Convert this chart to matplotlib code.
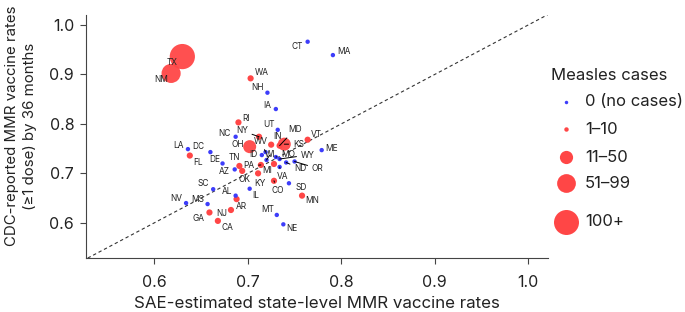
import matplotlib
matplotlib.use("Agg")
import matplotlib.pyplot as plt
from matplotlib.lines import Line2D

plt.rcParams['font.family'] = ['Inter', 'DejaVu Sans']

# ---- data ----
states = ["CT", "MA", "TX", "NM", "WA", "NH", "IA", "RI", "UT", "NC", "NY", "VT",
          "LA", "DC", "FL", "ME", "OH", "KS", "IN", "MD", "DE", "WV", "ID", "WI",
          "MO", "WY", "ND", "OR", "VA", "MI", "PA", "KY", "CO", "SD", "MN", "TN",
          "OK", "AZ", "IL", "SC", "AL", "AR", "NV", "MS", "GA", "NJ", "CA", "MT", "NE"]
sae_rate = [0.764, 0.791, 0.630, 0.618, 0.703, 0.721, 0.730, 0.690, 0.732, 0.687, 0.712, 0.764,
            0.636, 0.660, 0.638, 0.779, 0.702, 0.739, 0.725, 0.734, 0.673, 0.719, 0.715, 0.720,
            0.730, 0.734, 0.741, 0.750, 0.734, 0.728, 0.714, 0.711, 0.728, 0.744, 0.758, 0.691,
            0.694, 0.686, 0.702, 0.663, 0.687, 0.688, 0.634, 0.657, 0.659, 0.682, 0.668, 0.731, 0.738]
cdc_rate = [0.966, 0.939, 0.936, 0.902, 0.892, 0.863, 0.830, 0.803, 0.788, 0.774, 0.774, 0.768,
            0.749, 0.743, 0.736, 0.747, 0.754, 0.759, 0.758, 0.756, 0.720, 0.743, 0.737, 0.727,
            0.733, 0.729, 0.722, 0.724, 0.713, 0.719, 0.717, 0.700, 0.685, 0.680, 0.655, 0.715,
            0.705, 0.708, 0.669, 0.668, 0.655, 0.648, 0.640, 0.638, 0.621, 0.626, 0.604, 0.616, 0.597]
# case category: 0 = none, 1 = 1-10, 2 = 11-50, 3 = 51-99, 4 = 100+
case_cat = [0, 0, 4, 3, 1, 0, 0, 1, 0, 0, 1, 1,
            0, 0, 1, 0, 2, 2, 1, 1, 0, 0, 0, 0,
            0, 0, 0, 0, 0, 1, 1, 1, 1, 0, 1, 1,
            1, 0, 0, 0, 0, 1, 0, 0, 1, 1, 1, 0, 0]
cat_labels = ["0 (no cases)", "1\u201310", "11\u201350", "51\u201399", "100+"]
ticks = [0.6, 0.7, 0.8, 0.9, 1.0]

# ---- styling ----
BLUE = '#3d3dfa'
RED = '#ff4646'
cat_color = [BLUE, RED, RED, RED, RED]
cat_size = [10, 20, 88, 190, 330]
leg_ms = [2.5, 3.2, 9.5, 13.5, 18]
leg_y_px = [102, 129, 157, 183, 222]

# label offsets in pixels (dx, dy) relative to point, and whether to draw a leader line
label_off = {
    "CT": (-10, -5, False), "MA": (11, 4, False), "TX": (-10, -6, False), "NM": (-10, -6, False),
    "WA": (11, 6, False), "NH": (-10, 5, False), "IA": (-9, 4, False), "RI": (8, 4, False),
    "UT": (-9, 5, False), "NC": (-11, 3, False), "NY": (-17, 6, True), "VT": (9, 5, False),
    "LA": (-9, 4, False), "DC": (-12, 6, False), "FL": (8, -7, False), "ME": (10, 2, False),
    "OH": (-12, 2, False), "KS": (14, 0, True), "IN": (6, 8, False), "MD": (15, 16, True),
    "DE": (-8, 4, False), "WV": (-5, 11, True), "ID": (-8, 1, False), "WI": (4, 6, True),
    "MO": (12, 3, True), "WY": (28, 4, True), "ND": (14, -6, True), "OR": (23, -7, True),
    "VA": (3, -10, True), "MI": (-7, -7, False), "PA": (-12, -1, True), "KY": (2, -10, False),
    "CO": (4, -10, True), "SD": (12, -4, False), "MN": (10, -5, False), "TN": (-5, 8, False),
    "OK": (2, -9, False), "AZ": (-10, -2, False), "IL": (6, -7, False), "SC": (-10, 6, False),
    "AL": (-9, 4, False), "AR": (5, -7, False), "NV": (-10, 5, False), "MS": (-10, 5, False),
    "GA": (-11, -6, False), "NJ": (-9, -4, False), "CA": (10, -7, False), "MT": (-9, 5, False),
    "NE": (9, -4, False),
}

W, H = 685, 312
fig = plt.figure(figsize=(W / 100, H / 100), dpi=100)
ax = fig.add_axes([86 / W, 1 - 258 / H, (548 - 86) / W, (258 - 15) / H])

ax.plot([0.5, 1.1], [0.5, 1.1], ls=(0, (3, 2.5)), color='#333333', lw=0.8, zorder=1)

order = sorted(range(len(states)), key=lambda i: -case_cat[i])
for i in order:
    c = case_cat[i]
    ax.scatter(sae_rate[i], cdc_rate[i], s=cat_size[c], color=cat_color[c],
               edgecolors='none', alpha=0.95 if c >= 2 else 1.0, zorder=2 + (4 - c) * 0.1)

for i, st in enumerate(states):
    dx, dy, line = label_off[st]
    kw = dict(xy=(sae_rate[i], cdc_rate[i]), xytext=(dx, dy), textcoords='offset pixels',
              ha='center', va='center', fontsize=6, color='#222222', zorder=5)
    if line:
        kw['arrowprops'] = dict(arrowstyle='-', color='black', lw=0.7,
                                shrinkA=1, shrinkB=0)
    ax.annotate(st, **kw)

ax.set_xlim(0.527, 1.021)
ax.set_ylim(0.529, 1.020)
ax.set_xticks(ticks)
ax.set_yticks(ticks)
ax.set_xticklabels([f"{t:.1f}" for t in ticks])
ax.set_yticklabels([f"{t:.1f}" for t in ticks])
for s in ['top', 'right']:
    ax.spines[s].set_visible(False)
for s in ['left', 'bottom']:
    ax.spines[s].set_color('#444444')
    ax.spines[s].set_linewidth(0.8)
ax.tick_params(axis='both', direction='out', length=4.5, width=0.8, color='#444444',
               labelsize=11.5, labelcolor='#222222')
ax.tick_params(axis='x', pad=8)
ax.tick_params(axis='y', pad=4)

ax.set_xlabel("SAE-estimated state-level MMR vaccine rates", fontsize=12.2,
              color='#222222', va='center')
ax.xaxis.set_label_coords(0.5, (258 - 304) / 243)
ax.set_ylabel("CDC-reported MMR vaccine rates\n(\u22651 dose) by 36 months", fontsize=10.8,
              color='#222222', linespacing=1.4, va='center')
ax.yaxis.set_label_coords((21 - 86) / 462, (258 - 126) / 243)

# manual legend
fig.text(551 / W, 1 - 75 / H, "Measles cases", fontsize=12, color='#222222',
         ha='left', va='center')
for k in range(len(cat_labels)):
    yk = 1 - leg_y_px[k] / H
    fig.add_artist(Line2D([566 / W], [yk], ls='none', marker='o', markersize=leg_ms[k],
                          markerfacecolor=cat_color[k], markeredgecolor='none',
                          transform=fig.transFigure))
    fig.text(585 / W, yk, cat_labels[k], fontsize=12, color='#222222',
             ha='left', va='center')

fig.savefig("out.png", dpi=100)
